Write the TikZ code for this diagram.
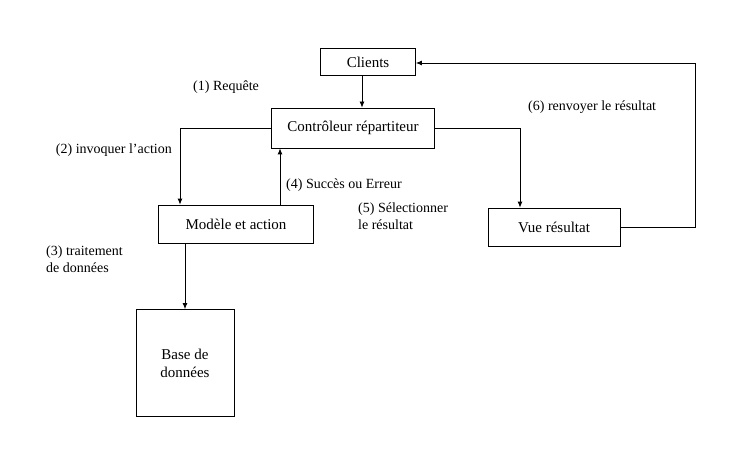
\documentclass[tikz,border=0pt]{standalone}
\usepackage{fontspec}
\setmainfont{Liberation Serif}
\usetikzlibrary{arrows.meta}
\begin{document}
\begin{tikzpicture}[x=1pt,y=-1pt,
  every node/.style={font=\fontsize{14}{17}\selectfont},
  boxnode/.style={draw=black, line width=0.8pt, inner sep=2pt, font=\fontsize{15}{18}\selectfont},
  lbl/.style={inner sep=0pt, align=left},
  conn/.style={draw=black, line width=0.8pt, -{Latex[length=6pt,width=5pt]}}]
\useasboundingbox (0,0) rectangle (730,473);

\node[boxnode, minimum width=95pt, minimum height=27pt] (clients) at (368,62) {Clients};
\node[boxnode, minimum width=163pt, minimum height=40pt] (ctrl) at (353,128) {Contrôleur répartiteur};
\node[boxnode, minimum width=155pt, minimum height=38pt] (modele) at (236,224) {Modèle et action};
\node[boxnode, minimum width=132pt, minimum height=38pt] (vue) at (554,227) {Vue résultat};
\node[boxnode, minimum width=98pt, minimum height=107pt, align=center] (bd) at (185,363) {Base de\\données};

\coordinate (c2a) at (180,128);
\coordinate (c5a) at (520,128);
\coordinate (c6a) at (695,227);
\coordinate (c6b) at (695,63);

% (1) request
\draw[conn] (clients.south -| 362,0) -- (ctrl.north -| 362,0);
% (2) invoke action
\draw[conn] (ctrl.west) -- (c2a) -- (c2a |- modele.north);
% (4) success or error
\draw[conn] (modele.north -| 280,0) -- (ctrl.south -| 280,0);
% (3) data processing
\draw[conn] (modele.south -| 185,0) -- (bd.north -| 185,0);
% (5) select result
\draw[conn] (ctrl.east) -- (c5a) -- (c5a |- vue.north);
% (6) return result
\draw[conn] (vue.east) -- (c6a) -- (c6b) -- (clients.east |- c6b);

\node[lbl, anchor=west] (l1) at (193,87) {(1) Requête};
\node[lbl, anchor=east] (l2) at (172,150) {(2) invoquer l'action};
\node[lbl, anchor=north west] (l3) at (46,246) {(3) traitement\\de données};
\node[lbl, anchor=west] (l4) at (286,185) {(4) Succès ou Erreur};
\node[lbl, anchor=north west] (l5) at (358,203) {(5) Sélectionner\\le résultat};
\node[lbl, anchor=west] (l6) at (528,107) {(6) renvoyer le résultat};
\end{tikzpicture}
\end{document}
